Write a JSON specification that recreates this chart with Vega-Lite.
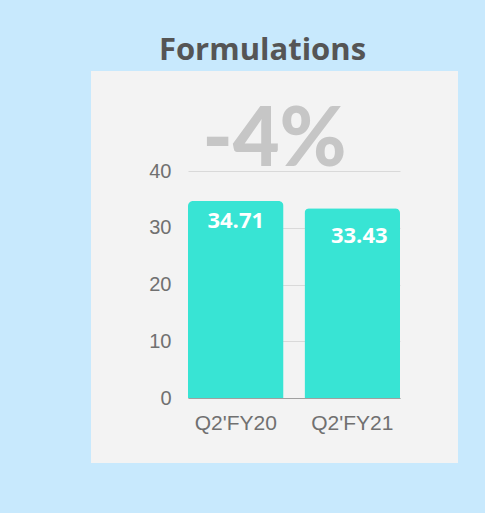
{
  "$schema": "https://vega.github.io/schema/vega-lite/v6.json",
  "width": 367,
  "height": 392,
  "autosize": {"type": "none"},
  "padding": {"left": 91, "top": 71, "right": 27, "bottom": 50},
  "background": "#c8e9fd",
  "view": {"fill": "#f3f3f3", "stroke": null},
  "title": {
    "text": "Formulations",
    "fontSize": 31,
    "font": "Open Sans",
    "fontWeight": "bold",
    "color": "#555555",
    "anchor": "middle",
    "frame": "group",
    "dx": -12,
    "dy": 30,
    "baseline": "alphabetic",
    "offset": 10
  },
  "data": {
    "values": [
      {"quarter": "Q2'FY20", "value": 34.71},
      {"quarter": "Q2'FY21", "value": 33.43}
    ]
  },
  "layer": [
    {
      "mark": {"type": "bar", "color": "#38e4d4", "cornerRadiusTopLeft": 5, "cornerRadiusTopRight": 5},
      "encoding": {
        "x": {
          "field": "quarter",
          "type": "nominal",
          "sort": null,
          "scale": {"range": [97, 309], "paddingInner": 0.18, "paddingOuter": 0},
          "axis": {
            "orient": "bottom",
            "offset": -65,
            "title": null,
            "ticks": false,
            "domainColor": "#a0a0a0",
            "labelFontSize": 21,
            "labelFont": "Liberation Sans",
            "labelColor": "#707070",
            "labelPadding": 14,
            "labelAngle": 0
          }
        },
        "y": {
          "field": "value",
          "type": "quantitative",
          "scale": {"domain": [0, 40], "range": [327, 100], "nice": false},
          "axis": {
            "values": [0, 10, 20, 30, 40],
            "offset": -97,
            "domain": false,
            "ticks": false,
            "labelPadding": 17,
            "labelFontSize": 20,
            "labelFont": "Liberation Sans",
            "labelColor": "#707070",
            "grid": true,
            "gridColor": "#d9d9d9",
            "title": null
          }
        }
      }
    },
    {
      "transform": [{"filter": "datum.quarter === \"Q2'FY20\""}],
      "mark": {"type": "text", "color": "#ffffff", "font": "Open Sans", "fontWeight": "bold", "fontSize": 22, "baseline": "alphabetic", "dy": 27},
      "encoding": {
        "x": {"field": "quarter", "type": "nominal", "sort": null},
        "y": {"field": "value", "type": "quantitative"},
        "text": {"field": "value", "type": "quantitative", "format": ".2f"}
      }
    },
    {
      "transform": [{"filter": "datum.quarter === \"Q2'FY21\""}],
      "mark": {"type": "text", "color": "#ffffff", "font": "Open Sans", "fontWeight": "bold", "fontSize": 22, "baseline": "alphabetic", "dy": 35, "dx": 7},
      "encoding": {
        "x": {"field": "quarter", "type": "nominal", "sort": null},
        "y": {"field": "value", "type": "quantitative"},
        "text": {"field": "value", "type": "quantitative", "format": ".2f"}
      }
    },
    {
      "data": {"values": [{"change": "-4%"}]},
      "mark": {"type": "text", "color": "#c6c6c6", "font": "Lato", "fontWeight": 900, "fontSize": 81, "baseline": "alphabetic"},
      "encoding": {
        "y": {"datum": 40.9, "type": "quantitative"},
        "text": {"field": "change"}
      }
    }
  ]
}
